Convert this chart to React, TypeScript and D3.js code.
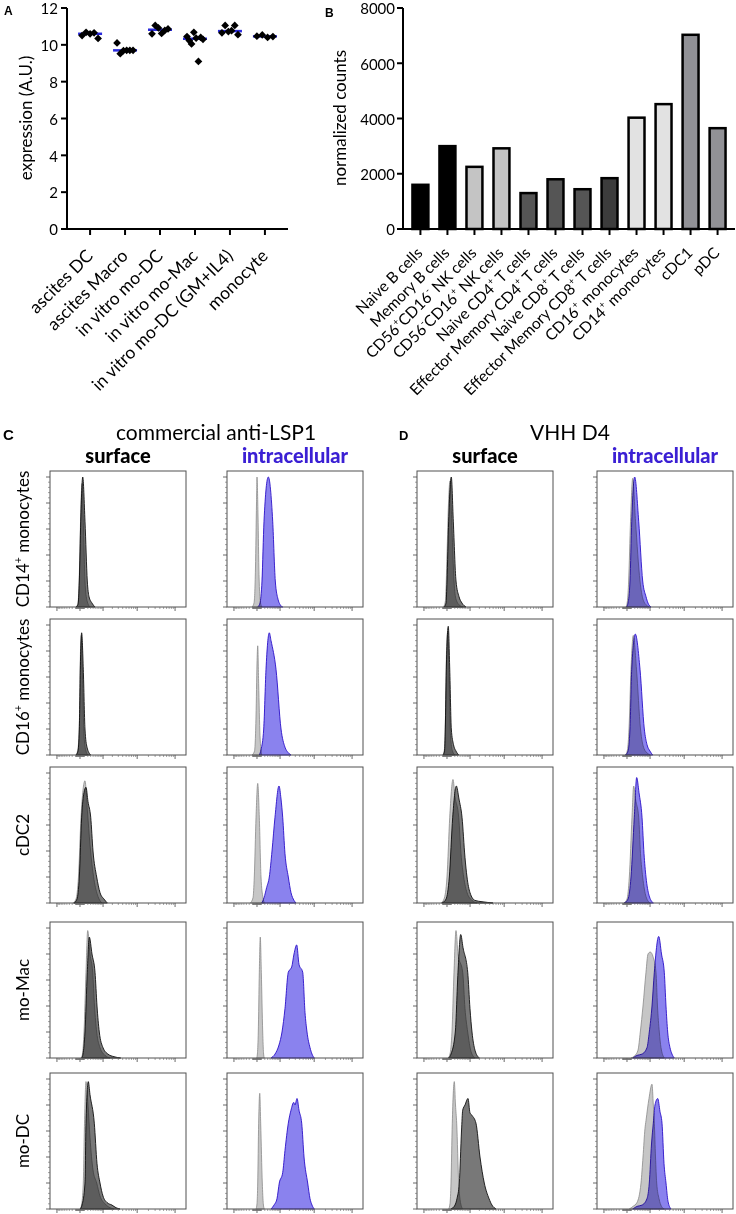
import React from 'react';
import * as d3 from 'd3';

// ---------- Panel A data ----------
const aCategories = ['ascites DC', 'ascites Macro', 'in vitro mo-DC', 'in vitro mo-Mac', 'in vitro mo-DC (GM+IL4)', 'monocyte'];
const aValues = [
  [10.5, 10.68, 10.6, 10.65, 10.35],
  [10.1, 9.52, 9.68, 9.7, 9.7, 9.7],
  [10.6, 11.05, 10.92, 10.62, 10.78, 10.86],
  [10.45, 10.23, 10.05, 10.68, 10.36, 9.1, 10.4, 10.3],
  [10.65, 11.05, 10.72, 10.77, 11.05, 10.55],
  [10.47, 10.54, 10.4, 10.45],
];
const aTicks = [0, 2, 4, 6, 8, 10, 12];

// ---------- Panel B data ----------
const bCategories = ['Naive B cells', 'Memory B cells', 'CD56^+CD16^- NK cells', 'CD56^-CD16^+ NK cells', 'Naive CD4^+ T cells',
  'Effector Memory CD4^+ T cells', 'Naive CD8^+ T cells', 'Effector Memory CD8^+ T cells', 'CD16^+ monocytes', 'CD14^+ monocytes', 'cDC1', 'pDC'];
const bValues = [1600, 3000, 2250, 2920, 1300, 1800, 1440, 1840, 4030, 4520, 7030, 3650];
const bColors = ['#000000', '#000000', '#c4c4c4', '#c4c4c4', '#555555', '#555555', '#555555', '#3c3c3c', '#e2e2e2', '#e2e2e2', '#919196', '#919196'];
const bTicks = [0, 2000, 4000, 6000, 8000];

// ---------- Panels C/D data: [fluorescence, % of max] ----------
const rowLabels = ['CD14^+ monocytes', 'CD16^+ monocytes', 'cDC2', 'mo-Mac', 'mo-DC'];

const cSurfCtrl = [
  [[-91, 0], [-43, 3], [-10, 30], [21, 80], [43, 95], [79, 60], [117, 20], [175, 5], [275, 0]],
  [[-91, 0], [-43, 5], [-10, 30], [10, 80], [27, 92], [54, 60], [91, 15], [145, 3], [206, 0]],
  [[-175, 0], [-91, 3], [-32, 20], [21, 66], [117, 94], [190, 70], [275, 45], [441, 18], [651, 5], [918, 0]],
  [[21, 0], [54, 3], [91, 20], [145, 66], [197, 98], [275, 80], [383, 66], [465, 40], [577, 20], [777, 8], [1166, 2], [1690, 0]],
  [[0, 0], [32, 3], [73, 20], [104, 66], [145, 98], [206, 80], [275, 55], [396, 30], [577, 20], [777, 10], [1166, 4], [1690, 1], [2240, 0]],
];
const cSurfStain = [
  [[-91, 0], [-43, 2], [-14, 20], [15, 66], [60, 100], [117, 66], [184, 20], [240, 8], [353, 3], [489, 0]],
  [[-91, 0], [-43, 3], [-14, 20], [6, 66], [35, 94], [73, 66], [117, 20], [175, 6], [302, 0]],
  [[-145, 0], [-66, 3], [-14, 20], [35, 66], [91, 85], [145, 89], [206, 78], [302, 66], [396, 40], [577, 20], [777, 8], [1080, 3], [1390, 0]],
  [[35, 0], [66, 3], [117, 20], [184, 66], [250, 93], [353, 80], [489, 66], [594, 40], [731, 20], [995, 8], [1460, 3], [2240, 1], [3510, 0]],
  [[0, 0], [43, 3], [117, 20], [145, 66], [216, 98], [275, 88], [455, 66], [594, 35], [777, 20], [995, 10], [1357, 5], [1950, 3], [2570, 1], [3360, 0]],
];
const cIntraCtrl = [
  [[-117, 0], [-66, 3], [-32, 30], [-10, 80], [0, 100], [21, 70], [43, 25], [79, 3], [117, 0]],
  [[-117, 0], [-54, 3], [-20, 30], [0, 70], [15, 84], [35, 55], [66, 15], [109, 0]],
  [[-166, 0], [-91, 4], [-59, 20], [-20, 66], [15, 92], [50, 66], [91, 20], [145, 4], [184, 0]],
  [[-6, 0], [10, 4], [27, 20], [50, 66], [73, 93], [99, 66], [137, 20], [160, 4], [184, 0]],
  [[-20, 0], [0, 4], [15, 20], [35, 66], [60, 89], [83, 66], [125, 20], [154, 4], [184, 0]],
];
const cIntraStain = [
  [[15, 0], [66, 3], [117, 20], [175, 66], [325, 100], [524, 66], [669, 20], [846, 6], [995, 2], [1230, 0]],
  [[50, 0], [91, 4], [166, 20], [240, 66], [366, 94], [441, 88], [712, 66], [1080, 20], [1460, 6], [1816, 2], [2240, 0]],
  [[110, 0], [175, 4], [264, 12], [366, 20], [489, 40], [651, 66], [918, 90], [1080, 80], [1230, 66], [1460, 38], [1856, 20], [2240, 8], [2750, 2], [3140, 0]],
  [[441, 0], [651, 3], [918, 10], [1166, 20], [1460, 38], [1856, 66], [2350, 70], [2750, 80], [3290, 87], [3830, 72], [4860, 66], [5630, 35], [6390, 20], [7720, 8], [8750, 3], [10080, 0]],
  [[441, 0], [594, 3], [777, 8], [941, 20], [1230, 28], [1460, 45], [1856, 66], [2240, 76], [2700, 82], [2940, 80], [3360, 85], [3830, 76], [4560, 66], [5290, 40], [6670, 20], [7720, 8], [8750, 3], [10080, 0]],
];
const dSurfCtrl = [
  [[-78, 0], [-32, 5], [0, 40], [32, 80], [66, 97], [117, 60], [175, 20], [240, 6], [396, 1], [540, 0]],
  [[-91, 0], [-54, 5], [-32, 30], [-10, 80], [16, 95], [43, 60], [79, 15], [131, 3], [206, 0]],
  [[-145, 0], [-66, 3], [0, 20], [60, 66], [145, 95], [206, 82], [341, 66], [441, 38], [577, 20], [777, 8], [1166, 2], [1690, 0]],
  [[21, 0], [66, 3], [117, 20], [175, 66], [240, 98], [313, 80], [524, 66], [651, 38], [825, 20], [1080, 5], [1460, 0]],
  [[35, 0], [66, 4], [91, 20], [125, 66], [184, 98], [223, 80], [264, 66], [341, 20], [418, 5], [524, 0]],
];
const dSurfStain = [
  [[-66, 0], [-20, 3], [0, 20], [35, 66], [99, 100], [154, 66], [240, 20], [353, 8], [489, 3], [712, 0]],
  [[-91, 0], [-54, 3], [-36, 20], [-14, 66], [27, 99], [60, 66], [99, 20], [160, 8], [240, 3], [341, 0]],
  [[-117, 0], [-20, 3], [50, 20], [137, 66], [250, 90], [353, 80], [489, 66], [651, 35], [777, 20], [995, 8], [1460, 2], [2400, 1], [4960, 0]],
  [[35, 0], [91, 3], [216, 20], [313, 66], [427, 95], [540, 85], [825, 66], [995, 38], [1166, 20], [1460, 6], [1990, 0]],
  [[91, 0], [206, 3], [275, 8], [366, 20], [465, 60], [524, 76], [651, 80], [846, 85], [995, 74], [1166, 72], [1570, 66], [2090, 40], [2800, 20], [3830, 8], [4650, 3], [6000, 0]],
];
const dIntraCtrl = [
  [[-20, 0], [10, 5], [35, 20], [79, 66], [137, 99], [223, 66], [396, 20], [540, 6], [777, 1], [918, 0]],
  [[-32, 0], [10, 4], [43, 20], [91, 66], [154, 92], [257, 66], [418, 20], [594, 5], [846, 1], [995, 0]],
  [[-66, 0], [0, 3], [50, 20], [117, 66], [166, 90], [223, 80], [341, 66], [418, 38], [524, 20], [712, 5], [995, 0]],
  [[91, 0], [206, 2], [313, 6], [409, 20], [540, 40], [712, 66], [846, 80], [1020, 81.5], [1260, 78], [1570, 66], [1750, 40], [1990, 20], [2240, 8], [2800, 0]],
  [[50, 0], [145, 2], [275, 5], [441, 20], [540, 40], [651, 62], [712, 68], [918, 85], [1166, 96], [1288, 80], [1390, 66], [1518, 40], [1655, 20], [1950, 8], [2320, 2], [2800, 0]],
];
const dIntraStain = [
  [[-10, 0], [21, 3], [66, 20], [110, 66], [197, 100], [341, 66], [524, 20], [712, 8], [846, 3], [1080, 0]],
  [[-32, 0], [21, 3], [66, 20], [110, 66], [216, 93], [396, 66], [611, 20], [777, 8], [995, 3], [1230, 0]],
  [[-59, 0], [21, 3], [91, 20], [184, 66], [264, 96.5], [353, 85], [489, 66], [594, 38], [712, 20], [918, 6], [1288, 0]],
  [[137, 0], [275, 2], [489, 3], [777, 8], [941, 20], [1166, 40], [1390, 66], [1910, 93.5], [2320, 80], [2800, 66], [3140, 40], [3510, 20], [4080, 8], [4650, 3], [5390, 0]],
  [[137, 0], [275, 2], [489, 3], [777, 8], [941, 20], [1122, 50], [1288, 66], [1460, 80], [1780, 85], [2090, 75], [2400, 66], [2750, 35], [3140, 20], [3580, 6], [4360, 0]],
];

const histMajorX = [-1000, 0, 1000, 10000, 100000];
const histMajorY = [0, 20, 40, 60, 80, 100];

// ---------- layout ----------
const FONT = 'Lato, "Open Sans", sans-serif';
const BLUE = '#3b20d4';
const colLefts = [50, 227, 417, 597];
const rowTops = [471, 619, 767, 922, 1073];
const BOX = 136;

function Sup({ text, size }: { text: string; size: number }) {
  const parts = text.split(/(\^[+\-])/).filter((p) => p !== '');
  let shifted = false;
  const out: any[] = [];
  parts.forEach((p, i) => {
    if (p.startsWith('^')) {
      out.push(<tspan key={i} dy={-size * 0.42} fontSize={size * 0.62}>{p[1]}</tspan>);
      shifted = true;
    } else {
      out.push(<tspan key={i} dy={shifted ? size * 0.42 : 0}>{p}</tspan>);
      shifted = false;
    }
  });
  return <>{out}</>;
}

function PanelA() {
  const x = d3.scalePoint<string>().domain(aCategories).range([67, 288]).padding(0.66);
  const y = d3.scaleLinear().domain([0, 12]).range([229, 8]);
  const sym = d3.symbol().type(d3.symbolSquare).size(30)() as string;
  return (
    <g>
      <text x={4} y={15} fontFamily="Arial, sans-serif" fontWeight="bold" fontSize={12}>A</text>
      {aCategories.map((c, i) => {
        const vals = aValues[i];
        const med = d3.median(vals) as number;
        const cx = x(c) as number;
        return (
          <g key={c}>
            <line x1={cx - 12} x2={cx + 12} y1={y(med)} y2={y(med)} stroke="#2b2bdc" strokeWidth={2.5} />
            {vals.map((v, j) => {
              const off = vals.length > 1 ? (j / (vals.length - 1) - 0.5) * 16 : 0;
              return <path key={j} d={sym} transform={`translate(${cx + off},${y(v)}) rotate(45)`} fill="#000" />;
            })}
          </g>
        );
      })}
      <line x1={67} x2={67} y1={y(12)} y2={y(0) + 1} stroke="#000" strokeWidth={2} />
      <line x1={66} x2={288} y1={y(0)} y2={y(0)} stroke="#000" strokeWidth={2} />
      {aTicks.map((t) => (
        <g key={t}>
          <line x1={61} x2={67} y1={y(t)} y2={y(t)} stroke="#000" strokeWidth={2} />
          <text x={58} y={y(t)} dy="0.42em" textAnchor="end" fontFamily={FONT} fontSize={15}>{t}</text>
        </g>
      ))}
      {aCategories.map((c) => {
        const cx = x(c) as number;
        return (
          <g key={c}>
            <line x1={cx} x2={cx} y1={229} y2={235} stroke="#000" strokeWidth={2} />
            <text transform={`translate(${cx + 4},${257}) rotate(-45)`} textAnchor="end" fontFamily={FONT} fontSize={17.5}>{c}</text>
          </g>
        );
      })}
      <text transform={`translate(${32},${118}) rotate(-90)`} textAnchor="middle" fontFamily={FONT} fontSize={17}>expression (A.U.)</text>
    </g>
  );
}

function PanelB() {
  const x = d3.scaleBand<string>().domain(bCategories).range([403, 735]).paddingInner(0.41).paddingOuter(0.35);
  const y = d3.scaleLinear().domain([0, 8000]).range([229, 8]);
  return (
    <g>
      <text x={325} y={17} fontFamily="Arial, sans-serif" fontWeight="bold" fontSize={12}>B</text>
      {bCategories.map((c, i) => (
        <rect key={c} x={x(c)} y={y(bValues[i])} width={x.bandwidth()} height={y(0) - y(bValues[i])}
          fill={bColors[i]} stroke="#000" strokeWidth={2.5} />
      ))}
      <line x1={403} x2={403} y1={y(8000)} y2={y(0) + 1} stroke="#000" strokeWidth={2} />
      <line x1={402} x2={735} y1={y(0)} y2={y(0)} stroke="#000" strokeWidth={2} />
      {bTicks.map((t) => (
        <g key={t}>
          <line x1={397} x2={403} y1={y(t)} y2={y(t)} stroke="#000" strokeWidth={2} />
          <text x={395} y={y(t)} dy="0.42em" textAnchor="end" fontFamily={FONT} fontSize={15}>{t}</text>
        </g>
      ))}
      {bCategories.map((c) => {
        const cx = (x(c) as number) + x.bandwidth() / 2;
        return (
          <g key={c}>
            <line x1={cx} x2={cx} y1={229} y2={235} stroke="#000" strokeWidth={2} />
            <text transform={`translate(${cx + 3},${254}) rotate(-45)`} textAnchor="end" fontFamily={FONT} fontSize={15.5}>
              <Sup text={c} size={15.5} />
            </text>
          </g>
        );
      })}
      <text transform={`translate(${346},${118}) rotate(-90)`} textAnchor="middle" fontFamily={FONT} fontSize={17}>normalized counts</text>
    </g>
  );
}

function Hist({ left, top, ctrl, stain, intra }: { left: number; top: number; ctrl: number[][]; stain: number[][]; intra: boolean }) {
  const x = d3.scaleSymlog().constant(335).domain([-1690, 193000]).range([left, left + BOX]);
  const y = d3.scaleLinear().domain([0, 100]).range([top + BOX, top + 6]);
  const area = d3.area<number[]>().x((d) => x(d[0])).y0(y(0)).y1((d) => y(d[1])).curve(d3.curveMonotoneX);
  const minorX: number[] = [];
  [-1, 1].forEach((s) => {
    for (let k = 1; k <= 9; k++) minorX.push(s * k * 10, s * k * 100);
    for (let k = 2; k <= 9; k++) minorX.push(k * 1000 * (s > 0 ? 1 : 0), k * 10000 * (s > 0 ? 1 : 0));
  });
  const minorXf = minorX.filter((v) => v !== 0 && v > -1690 && v < 193000);
  const minorY = d3.range(0, 101, 4).filter((v) => v % 20 !== 0);
  const bottom = top + BOX;
  return (
    <g>
      <path d={area(ctrl) as string} fill="#c6c6c6" stroke="#8a8a8a" strokeWidth={0.8} />
      <path d={area(stain) as string} fill={intra ? '#8a82ee' : '#787878'} stroke={intra ? '#2a10c8' : '#111'}
        strokeWidth={0.9} style={{ mixBlendMode: 'multiply' }} />
      <rect x={left} y={top} width={BOX} height={BOX} fill="none" stroke="#505050" strokeWidth={1} />
      {histMajorY.map((t) => <line key={'M' + t} x1={left - 4} x2={left} y1={y(t)} y2={y(t)} stroke="#444" strokeWidth={0.8} />)}
      {minorY.map((t) => <line key={'m' + t} x1={left - 2} x2={left} y1={y(t)} y2={y(t)} stroke="#666" strokeWidth={0.6} />)}
      {histMajorX.map((t) => <line key={'X' + t} x1={x(t)} x2={x(t)} y1={bottom} y2={bottom + 4} stroke="#444" strokeWidth={0.8} />)}
      {minorXf.map((t, i) => <line key={'x' + i} x1={x(t)} x2={x(t)} y1={bottom} y2={bottom + 2} stroke="#666" strokeWidth={0.6} />)}
    </g>
  );
}

function PanelsCD() {
  const sets = [
    [cSurfCtrl, cSurfStain, false],
    [cIntraCtrl, cIntraStain, true],
    [dSurfCtrl, dSurfStain, false],
    [dIntraCtrl, dIntraStain, true],
  ] as [number[][][], number[][][], boolean][];
  return (
    <g>
      <text x={3} y={440} fontFamily="Arial, sans-serif" fontWeight="bold" fontSize={15}>C</text>
      <text x={399} y={440} fontFamily="Arial, sans-serif" fontWeight="bold" fontSize={13}>D</text>
      <text x={216} y={440} textAnchor="middle" fontFamily={FONT} fontSize={21}>commercial anti-LSP1</text>
      <text x={570} y={440} textAnchor="middle" fontFamily={FONT} fontSize={21}>VHH D4</text>
      {colLefts.map((l, ci) => (
        <text key={ci} x={l + BOX / 2} y={463} textAnchor="middle" fontFamily={FONT} fontWeight={900} fontSize={20}
          fill={ci % 2 === 1 ? BLUE : '#000'}>{ci % 2 === 1 ? 'intracellular' : 'surface'}</text>
      ))}
      {rowLabels.map((lab, ri) => (
        <text key={lab} transform={`translate(${29},${rowTops[ri] + BOX / 2}) rotate(-90)`} textAnchor="middle" fontFamily={FONT} fontSize={17}>
          <Sup text={lab} size={17} />
        </text>
      ))}
      {sets.map(([ctrl, stain, intra], ci) =>
        rowTops.map((t, ri) => (
          <Hist key={ci + '-' + ri} left={colLefts[ci]} top={t} ctrl={ctrl[ri]} stain={stain[ri]} intra={intra} />
        ))
      )}
    </g>
  );
}

export default function App() {
  return (
    <svg width={736} height={1214} viewBox="0 0 736 1214" style={{ position: 'absolute', left: 0, top: 0, background: '#fff' }}
      xmlns="http://www.w3.org/2000/svg">
      <rect width={736} height={1214} fill="#fff" />
      <PanelA />
      <PanelB />
      <PanelsCD />
    </svg>
  );
}
